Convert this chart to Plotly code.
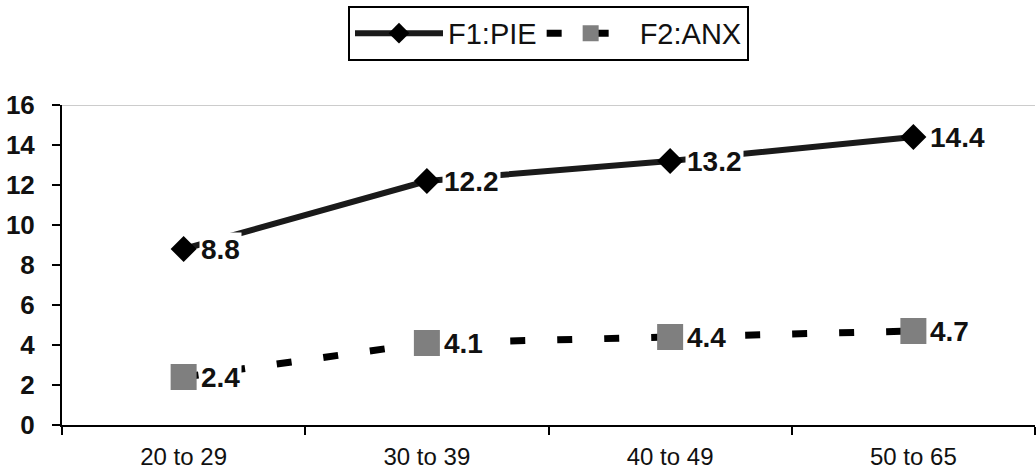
import plotly.graph_objects as go

categories = ["20 to 29", "30 to 39", "40 to 49", "50 to 65"]
f1_pie = [8.8, 12.2, 13.2, 14.4]
f2_anx = [2.4, 4.1, 4.4, 4.7]
y_ticks = [0, 2, 4, 6, 8, 10, 12, 14, 16]

FONT = "Arial, Liberation Sans"

fig = go.Figure()
fig.add_trace(go.Scatter(
    x=categories, y=f1_pie, name="F1:PIE", mode="lines+markers",
    line=dict(color="#1a1a1a", width=6),
    marker=dict(symbol="diamond", size=20, color="#000000"),
))
fig.add_trace(go.Scatter(
    x=categories, y=f2_anx, name="F2:ANX", mode="lines+markers",
    line=dict(color="#000000", width=7, dash="15px,32px"),
    marker=dict(symbol="square", size=26, color="#7f7f7f"),
))

for series in (f1_pie, f2_anx):
    for c, v in zip(categories, series):
        fig.add_annotation(
            x=c, y=v, text=f"<b>{v}</b>", showarrow=False,
            xanchor="left", yanchor="middle", xshift=15, yshift=0,
            bgcolor="white", borderpad=1,
            font=dict(family=FONT, size=28, color="#111111"),
        )

fig.add_shape(type="line", xref="paper", yref="y", x0=0, x1=1, y0=16, y1=16,
              line=dict(color="#999999", width=1))

fig.update_layout(
    width=1036, height=472,
    margin=dict(l=62, r=1, t=105, b=47),
    paper_bgcolor="white", plot_bgcolor="white",
    font=dict(family=FONT, color="#111111"),
    showlegend=True,
    legend=dict(
        orientation="h", x=0.5, xanchor="center", y=1.31, yanchor="top",
        bordercolor="#000000", borderwidth=2,
        font=dict(size=29, family=FONT),
        itemwidth=88, tracegroupgap=0,
    ),
    xaxis=dict(
        type="category", tickson="boundaries", ticks="outside", ticklen=8,
        tickwidth=2, tickcolor="#000000",
        showline=True, linecolor="#000000", linewidth=2, showgrid=False,
        tickfont=dict(size=24, family=FONT), range=[-0.5, 3.5],
        ticklabelstandoff=9,
    ),
    yaxis=dict(
        range=[0, 16], tickvals=y_ticks, ticks="outside", ticklen=8,
        tickwidth=2, tickcolor="#000000",
        showline=True, linecolor="#000000", linewidth=2, showgrid=False,
        zeroline=False, ticklabelstandoff=12,
        tickfont=dict(size=26, family=FONT, weight="bold"),
    ),
)

fig.write_html("out.html")
